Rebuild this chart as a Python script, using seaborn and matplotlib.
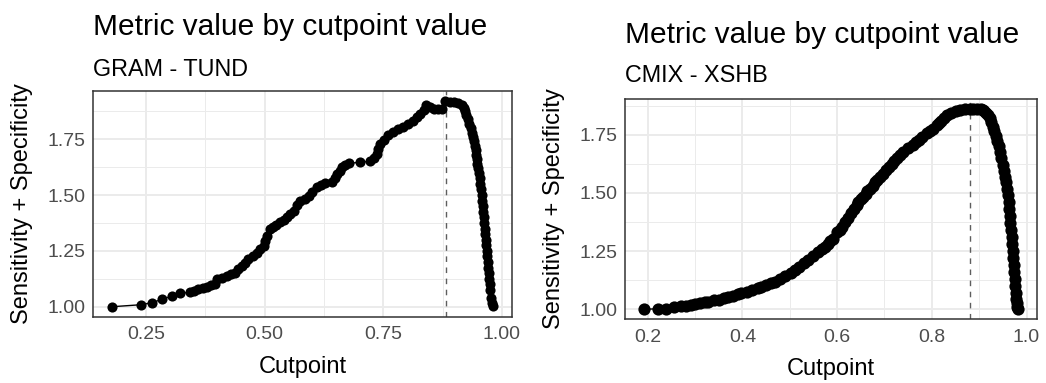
import matplotlib
matplotlib.use("Agg")
import matplotlib.pyplot as plt
import seaborn as sns
import pandas as pd

# values
gram_cut = [0.179, 0.240, 0.263, 0.284, 0.305, 0.323, 0.344, 0.352, 0.361, 0.370,
            0.379, 0.388, 0.396, 0.401, 0.410, 0.421, 0.430, 0.438, 0.445, 0.452,
            0.459, 0.466, 0.475, 0.484, 0.491, 0.498, 0.502, 0.505, 0.512, 0.518,
            0.525, 0.533, 0.540, 0.547, 0.554, 0.562, 0.569, 0.575, 0.586, 0.593,
            0.600, 0.611, 0.620, 0.628, 0.642, 0.648, 0.653, 0.658, 0.663, 0.670,
            0.677, 0.702, 0.723, 0.730, 0.737, 0.740, 0.744, 0.752, 0.761, 0.771,
            0.782, 0.792, 0.803, 0.812, 0.821, 0.828, 0.835, 0.840, 0.848, 0.856,
            0.865, 0.874, 0.881, 0.890, 0.898, 0.907, 0.916, 0.919, 0.922, 0.925,
            0.928, 0.931, 0.934, 0.937, 0.939, 0.941, 0.943, 0.945, 0.946, 0.947,
            0.948, 0.949, 0.951, 0.953, 0.954, 0.956, 0.957, 0.958, 0.959, 0.961,
            0.962, 0.963, 0.964, 0.965, 0.966, 0.967, 0.968, 0.969, 0.970, 0.971,
            0.972, 0.973, 0.974, 0.975, 0.977, 0.979, 0.981]
gram_val = [1.000, 1.009, 1.018, 1.033, 1.048, 1.060, 1.065, 1.070, 1.078, 1.083,
            1.090, 1.096, 1.104, 1.122, 1.130, 1.137, 1.145, 1.152, 1.167, 1.182,
            1.197, 1.212, 1.227, 1.242, 1.257, 1.272, 1.294, 1.316, 1.346, 1.356,
            1.366, 1.378, 1.390, 1.402, 1.414, 1.430, 1.455, 1.475, 1.482, 1.497,
            1.512, 1.535, 1.545, 1.553, 1.557, 1.575, 1.594, 1.609, 1.624, 1.633,
            1.642, 1.647, 1.651, 1.667, 1.684, 1.705, 1.729, 1.748, 1.767, 1.781,
            1.796, 1.807, 1.818, 1.833, 1.848, 1.863, 1.879, 1.905, 1.896, 1.886,
            1.886, 1.886, 1.920, 1.918, 1.916, 1.912, 1.905, 1.890, 1.875, 1.860,
            1.840, 1.820, 1.800, 1.780, 1.760, 1.740, 1.720, 1.700, 1.680, 1.660,
            1.640, 1.620, 1.600, 1.575, 1.550, 1.525, 1.500, 1.475, 1.450, 1.425,
            1.400, 1.375, 1.350, 1.325, 1.300, 1.275, 1.250, 1.225, 1.200, 1.175,
            1.150, 1.125, 1.100, 1.075, 1.040, 1.015, 1.005]

cmix_cut = [0.192, 0.221, 0.239, 0.256, 0.270, 0.280, 0.292, 0.300, 0.310, 0.320,
            0.327, 0.340, 0.350, 0.362, 0.370, 0.380, 0.390, 0.397, 0.410, 0.420,
            0.433, 0.440, 0.450, 0.460, 0.468, 0.480, 0.490, 0.503, 0.510, 0.520,
            0.530, 0.538, 0.550, 0.560, 0.567, 0.574, 0.580, 0.585, 0.591, 0.600,
            0.605, 0.610, 0.616, 0.623, 0.630, 0.636, 0.641, 0.645, 0.650, 0.655,
            0.660, 0.664, 0.669, 0.675, 0.680, 0.685, 0.690, 0.697, 0.704, 0.710,
            0.715, 0.720, 0.726, 0.732, 0.740, 0.750, 0.760, 0.767, 0.773, 0.780,
            0.790, 0.797, 0.803, 0.810, 0.815, 0.820, 0.826, 0.831, 0.840, 0.850,
            0.859, 0.870, 0.880, 0.887, 0.895, 0.903, 0.908, 0.911, 0.914, 0.918,
            0.922, 0.926, 0.929, 0.932, 0.935, 0.938, 0.941, 0.944, 0.947, 0.950,
            0.952, 0.954, 0.956, 0.958, 0.960, 0.962, 0.964, 0.965, 0.966, 0.968,
            0.969, 0.970, 0.971, 0.972, 0.973, 0.974, 0.975, 0.976, 0.977, 0.978,
            0.979, 0.980, 0.982]
cmix_val = [1.000, 1.002, 1.003, 1.008, 1.012, 1.015, 1.018, 1.021, 1.025, 1.030,
            1.033, 1.039, 1.042, 1.047, 1.052, 1.058, 1.064, 1.069, 1.076, 1.082,
            1.090, 1.095, 1.103, 1.111, 1.118, 1.130, 1.142, 1.157, 1.168, 1.182,
            1.197, 1.211, 1.230, 1.246, 1.257, 1.268, 1.282, 1.293, 1.304, 1.330,
            1.342, 1.355, 1.376, 1.394, 1.412, 1.430, 1.447, 1.460, 1.472, 1.484,
            1.496, 1.508, 1.519, 1.532, 1.545, 1.557, 1.568, 1.583, 1.598, 1.612,
            1.624, 1.636, 1.649, 1.661, 1.675, 1.692, 1.707, 1.718, 1.729, 1.740,
            1.757, 1.767, 1.776, 1.790, 1.800, 1.810, 1.822, 1.833, 1.843, 1.852,
            1.857, 1.860, 1.861, 1.862, 1.862, 1.860, 1.856, 1.851, 1.845, 1.835,
            1.820, 1.804, 1.785, 1.765, 1.745, 1.725, 1.700, 1.675, 1.650, 1.620,
            1.595, 1.570, 1.545, 1.515, 1.490, 1.460, 1.430, 1.400, 1.370, 1.340,
            1.310, 1.280, 1.250, 1.220, 1.190, 1.160, 1.130, 1.100, 1.070, 1.045,
            1.025, 1.010, 1.000]

gram_opt = 0.882
cmix_opt = 0.880

gram_xticks = [0.25, 0.50, 0.75, 1.00]
gram_xlabels = ["0.25", "0.50", "0.75", "1.00"]
cmix_xticks = [0.2, 0.4, 0.6, 0.8, 1.0]
cmix_xlabels = ["0.2", "0.4", "0.6", "0.8", "1.0"]
yticks = [1.00, 1.25, 1.50, 1.75]
ylabels = ["1.00", "1.25", "1.50", "1.75"]

sns.set_theme(style="white")
plt.rcParams["font.family"] = ["Liberation Sans", "DejaVu Sans"]

fig = plt.figure(figsize=(10.46, 3.83), dpi=100)
W, H = 1046, 383
ax1 = fig.add_axes([93 / W, 1 - 317 / H, 419 / W, 226 / H])
ax2 = fig.add_axes([625.3 / W, 1 - 319.3 / H, 411.4 / W, 220.6 / H])


def panel(ax, x, y, opt, xt, xl, ms, ylab_x, xlab_y):
    df = pd.DataFrame({"Cutpoint": x, "Metric": y})
    sns.lineplot(data=df, x="Cutpoint", y="Metric", ax=ax, color="black",
                 linewidth=1.0, sort=False, estimator=None, marker="o",
                 markersize=ms, markeredgewidth=0, zorder=3)
    ax.axvline(opt, color="#5e5e5e", linestyle=(0, (4, 4)), linewidth=1.0, zorder=2)

    ax.set_xticks(xt)
    ax.set_xticklabels(xl)
    ax.set_yticks(yticks)
    ax.set_yticklabels(ylabels)
    step = xt[1] - xt[0]
    ax.set_xticks([t + step / 2 for t in [xt[0] - step] + xt], minor=True)
    ax.set_yticks([1.125, 1.375, 1.625, 1.875], minor=True)

    # ggplot-style 5% expansion, set after the ticks so they don't widen it
    xr = max(x) - min(x)
    yr = max(y) - min(y)
    ax.set_xlim(min(x) - 0.05 * xr, max(x) + 0.05 * xr)
    ax.set_ylim(min(y) - 0.05 * yr, max(y) + 0.05 * yr)

    ax.grid(True, which="major", color="#ebebeb", linewidth=1.4)
    ax.grid(True, which="minor", color="#ebebeb", linewidth=0.7)
    ax.set_axisbelow(True)
    for s in ax.spines.values():
        s.set_color("#333333")
        s.set_linewidth(1.1)

    ax.tick_params(axis="both", which="major", length=3.2, width=1.0,
                   color="#333333", labelsize=14, labelcolor="#4d4d4d")
    ax.tick_params(axis="x", which="major", pad=3.5)
    ax.tick_params(axis="y", which="major", pad=2.5)
    ax.tick_params(which="minor", length=0)

    ax.set_xlabel("Cutpoint", fontsize=17, color="black")
    ax.set_ylabel("Sensitivity + Specificity", fontsize=17, color="black")
    ax.yaxis.set_label_coords(ylab_x, 0.5)
    ax.xaxis.set_label_coords(0.5, xlab_y)


panel(ax1, gram_cut, gram_val, gram_opt, gram_xticks, gram_xlabels, 7.3, -0.1425, -0.173)
panel(ax2, cmix_cut, cmix_val, cmix_opt, cmix_xticks, cmix_xlabels, 8.8, -0.1466, -0.175)

fig.text(93 / W, 1 - 35 / H, "Metric value by cutpoint value", fontsize=21.5,
         color="black", ha="left", va="baseline")
fig.text(93 / W, 1 - 76 / H, "GRAM - TUND", fontsize=16.8,
         color="black", ha="left", va="baseline")
fig.text(625.3 / W, 1 - 42.7 / H, "Metric value by cutpoint value", fontsize=21.5,
         color="black", ha="left", va="baseline")
fig.text(625.3 / W, 1 - 81.7 / H, "CMIX - XSHB", fontsize=16.8,
         color="black", ha="left", va="baseline")

fig.savefig("out.png", dpi=100, facecolor="white")
